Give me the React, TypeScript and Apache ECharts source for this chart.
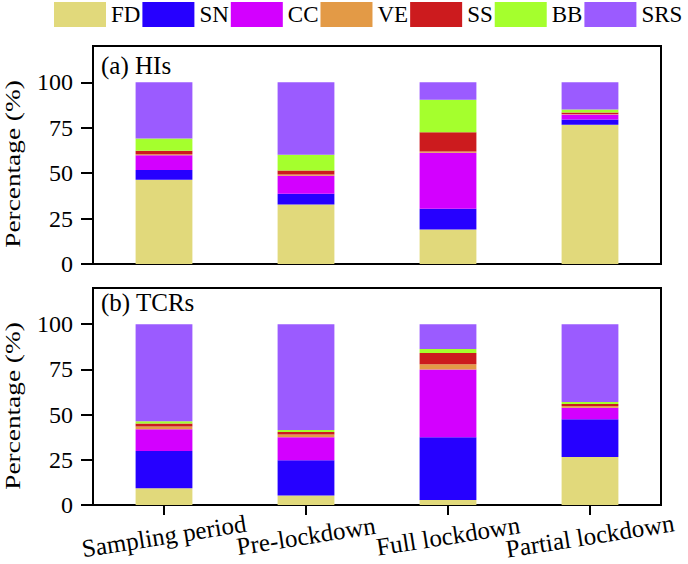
import React, { useEffect, useRef } from "react";
import * as echarts from "echarts";

const categories = ["Sampling period", "Pre-lockdown", "Full lockdown", "Partial lockdown"];
const sources = ["FD", "SN", "CC", "VE", "SS", "BB", "SRS"];
const sourceColors = ["#E1D97B", "#2600FF", "#D300FF", "#E39A46", "#CC1B1E", "#A5FF2D", "#9B5BFF"];
const yTicks = [0, 25, 50, 75, 100];

// (a) HIs, percentage by source for each period
const hisFD = [46.4, 32.8, 19.0, 76.6];
const hisSN = [5.4, 5.9, 11.4, 3.0];
const hisCC = [8.0, 9.9, 30.9, 2.7];
const hisVE = [0.6, 0.6, 0.6, 0.3];
const hisSS = [2.0, 2.2, 10.6, 0.8];
const hisBB = [6.7, 8.8, 17.9, 1.7];
const hisSRS = [30.9, 39.8, 9.6, 14.9];

// (b) TCRs, percentage by source for each period
const tcrFD = [9.2, 5.3, 2.8, 26.6];
const tcrSN = [20.6, 19.5, 34.7, 20.8];
const tcrCC = [12.1, 12.7, 37.5, 6.4];
const tcrVE = [1.5, 1.5, 2.9, 1.0];
const tcrSS = [1.7, 1.4, 6.1, 1.1];
const tcrBB = [1.2, 1.1, 2.2, 1.1];
const tcrSRS = [53.7, 58.5, 13.8, 43.0];

const hisSeries = [hisFD, hisSN, hisCC, hisVE, hisSS, hisBB, hisSRS];
const tcrSeries = [tcrFD, tcrSN, tcrCC, tcrVE, tcrSS, tcrBB, tcrSRS];

const FONT = "Liberation Serif";

export default function App() {
  const ref = useRef<HTMLDivElement>(null);

  useEffect(() => {
    if (!ref.current) return;
    const chart = echarts.init(ref.current, null, { renderer: "svg" });

    const yAxisCommon = (gridIndex: number) => ({
      type: "value",
      gridIndex,
      min: 0,
      max: 120,
      interval: 25,
      splitLine: { show: false },
      axisLine: { show: true, lineStyle: { color: "#000", width: 2 } },
      axisTick: {
        show: true,
        inside: false,
        length: 12,
        customValues: yTicks,
        lineStyle: { color: "#000", width: 2 },
      },
      axisLabel: {
        show: true,
        customValues: yTicks,
        margin: 20,
        fontSize: 24,
        fontFamily: FONT,
        color: "#000",
      },
    });

    const series: any[] = [];
    sources.forEach((name, i) => {
      series.push({
        name,
        type: "bar",
        xAxisIndex: 0,
        yAxisIndex: 0,
        stack: "his",
        barWidth: "40%",
        itemStyle: { color: sourceColors[i] },
        data: hisSeries[i],
      });
    });
    sources.forEach((name, i) => {
      series.push({
        name,
        type: "bar",
        xAxisIndex: 1,
        yAxisIndex: 1,
        stack: "tcr",
        barWidth: "40%",
        itemStyle: { color: sourceColors[i] },
        data: tcrSeries[i],
      });
    });

    const option: any = {
      animation: false,
      backgroundColor: "#fff",
      textStyle: { fontFamily: FONT },
      legend: {
        data: sources,
        left: 54,
        top: 2,
        icon: "rect",
        itemWidth: 52,
        itemHeight: 25,
        itemGap: 2,
        padding: 0,
        textStyle: { fontSize: 23, fontFamily: FONT, color: "#000" },
      },
      title: [
        {
          text: "(a) HIs",
          left: 101,
          top: 53,
          padding: 0,
          textStyle: { fontSize: 25, fontWeight: "normal", fontFamily: FONT, color: "#000" },
        },
        {
          text: "(b) TCRs",
          left: 101,
          top: 290,
          padding: 0,
          textStyle: { fontSize: 25, fontWeight: "normal", fontFamily: FONT, color: "#000" },
        },
      ],
      grid: [
        {
          left: 93,
          top: 46,
          width: 568,
          height: 218,
          show: true,
          borderColor: "#000",
          borderWidth: 2,
          containLabel: false,
          outerBoundsMode: "none",
        },
        {
          left: 93,
          top: 288,
          width: 568,
          height: 217,
          show: true,
          borderColor: "#000",
          borderWidth: 2,
          containLabel: false,
          outerBoundsMode: "none",
        },
      ],
      xAxis: [
        {
          type: "category",
          gridIndex: 0,
          data: categories,
          axisLine: { show: true, lineStyle: { color: "#000", width: 2 } },
          axisTick: { show: false },
          axisLabel: { show: false },
        },
        {
          type: "category",
          gridIndex: 1,
          data: categories,
          axisLine: { show: true, lineStyle: { color: "#000", width: 2 } },
          axisTick: {
            show: true,
            alignWithLabel: true,
            length: 10,
            lineStyle: { color: "#000", width: 2 },
          },
          axisLabel: {
            show: true,
            interval: 0,
            hideOverlap: false,
            rotate: 9,
            align: "center",
            verticalAlign: "middle",
            margin: 31,
            fontSize: 25,
            fontFamily: FONT,
            color: "#000",
          },
        },
      ],
      yAxis: [yAxisCommon(0), yAxisCommon(1)],
      graphic: [
        {
          type: "text",
          x: 13,
          y: 164,
          rotation: Math.PI / 2,
          scaleX: 1.3,
          style: {
            text: "Percentage (%)",
            fontSize: 21,
            fontFamily: FONT,
            fill: "#000",
            align: "center",
            verticalAlign: "middle",
          },
        },
        {
          type: "text",
          x: 13,
          y: 406,
          rotation: Math.PI / 2,
          scaleX: 1.3,
          style: {
            text: "Percentage (%)",
            fontSize: 21,
            fontFamily: FONT,
            fill: "#000",
            align: "center",
            verticalAlign: "middle",
          },
        },
      ],
      series,
    };

    chart.setOption(option);
    return () => {
      chart.dispose();
    };
  }, []);

  return (
    <div
      ref={ref}
      style={{ position: "fixed", left: 0, top: 0, width: 688, height: 564 }}
    />
  );
}
